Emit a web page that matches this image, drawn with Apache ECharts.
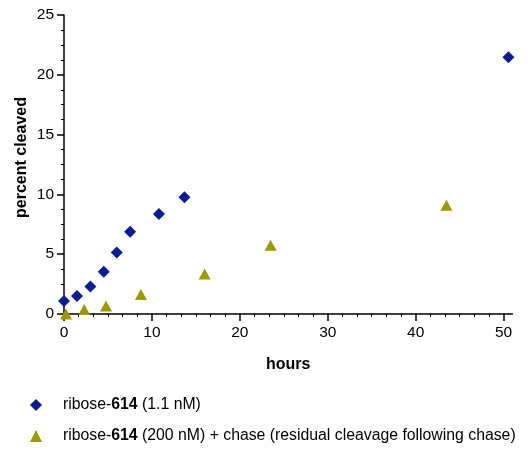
<!DOCTYPE html>
<html>
<head>
<meta charset="utf-8">
<script src="https://cdn.jsdelivr.net/npm/echarts@6/dist/echarts.min.js"></script>
<style>html,body{margin:0;padding:0;background:#fff}#c{width:528px;height:453px}</style>
</head>
<body>
<div id="c"></div>
<script>
var xTicks = [0, 10, 20, 30, 40, 50];
var yTicks = [0, 5, 10, 15, 20, 25];
var seriesANames = ['ribose-614 (1.1 nM)'];
var seriesBNames = ['ribose-614 (200 nM) + chase (residual cleavage following chase)'];
var aHours = [0, 1.48, 3.0, 4.52, 6.0, 7.52, 10.8, 13.7, 50.55];
var aPercent = [1.08, 1.5, 2.3, 3.54, 5.15, 6.87, 8.36, 9.77, 21.46];
var bHours = [0.23, 2.3, 4.78, 8.75, 16.0, 23.5, 43.5];
var bPercent = [0.0, 0.38, 0.66, 1.63, 3.35, 5.74, 9.1];

var FONT = 'Liberation Sans, Arial, sans-serif';
var blue = '#0B1D91';
var olive = '#9A9A00';

function pairs(xs, ys) { return xs.map(function (x, i) { return [x, ys[i]]; }); }

var chart = echarts.init(document.getElementById('c'), null, {renderer: 'canvas'});
chart.setOption({
  animation: false,
  backgroundColor: '#fff',
  grid: {left: 64, top: 15, right: 15.6, bottom: 139, containLabel: false},
  xAxis: {
    type: 'value', min: 0, max: 51, interval: 10,
    name: 'hours', nameLocation: 'middle', nameGap: 43, nameMoveOverlap: false,
    nameTextStyle: {fontFamily: FONT, fontSize: 16, fontWeight: 'bold', color: '#000'},
    splitLine: {show: false},
    axisLine: {show: true, onZero: false, lineStyle: {color: '#000', width: 1.5}},
    axisTick: {show: true, inside: false, length: 7, customValues: xTicks, lineStyle: {color: '#000', width: 1.5}},
    minorTick: {show: true, splitNumber: 6, length: 3, lineStyle: {color: '#000', width: 1}},
    axisLabel: {customValues: xTicks, inside: false, margin: 11, fontFamily: FONT, fontSize: 15.5, color: '#000'}
  },
  yAxis: {
    type: 'value', min: 0, max: 25, interval: 5,
    name: 'percent cleaved', nameLocation: 'middle', nameGap: 34, nameMoveOverlap: false,
    nameTextStyle: {fontFamily: FONT, fontSize: 16, fontWeight: 'bold', color: '#000', padding: [0, 0, 0, 14]},
    splitLine: {show: false},
    axisLine: {show: true, onZero: false, lineStyle: {color: '#000', width: 1.5}},
    axisTick: {show: true, inside: false, length: 7, lineStyle: {color: '#000', width: 1.5}},
    minorTick: {show: true, splitNumber: 4, length: 3, lineStyle: {color: '#000', width: 1}},
    axisLabel: {inside: false, margin: 10, fontFamily: FONT, fontSize: 15.5, color: '#000'}
  },
  legend: {
    orient: 'vertical', left: 25, top: 392, itemGap: 15,
    itemWidth: 12, itemHeight: 12,
    data: [
      {name: seriesANames[0], icon: 'diamond'},
      {name: seriesBNames[0], icon: 'triangle'}
    ],
    formatter: function (n) {
      var rest = n.replace('ribose-614', '');
      return '{s| }{a|ribose-}{b|614}{a|' + rest + '}';
    },
    textStyle: {
      fontFamily: FONT, fontSize: 15.8, color: '#000',
      rich: {
        s: {width: 16, fontSize: 15.8},
        a: {fontFamily: FONT, fontSize: 15.8, color: '#000'},
        b: {fontFamily: FONT, fontSize: 15.8, color: '#000', fontWeight: 'bold'}
      }
    }
  },
  series: [
    {
      name: seriesANames[0], type: 'scatter', symbol: 'diamond', symbolSize: 12,
      itemStyle: {color: blue, opacity: 1}, clip: false,
      data: pairs(aHours, aPercent)
    },
    {
      name: seriesBNames[0], type: 'scatter', symbol: 'triangle', symbolSize: [12, 11],
      itemStyle: {color: olive, opacity: 1}, clip: false,
      data: pairs(bHours, bPercent)
    }
  ]
});
</script>
</body>
</html>
